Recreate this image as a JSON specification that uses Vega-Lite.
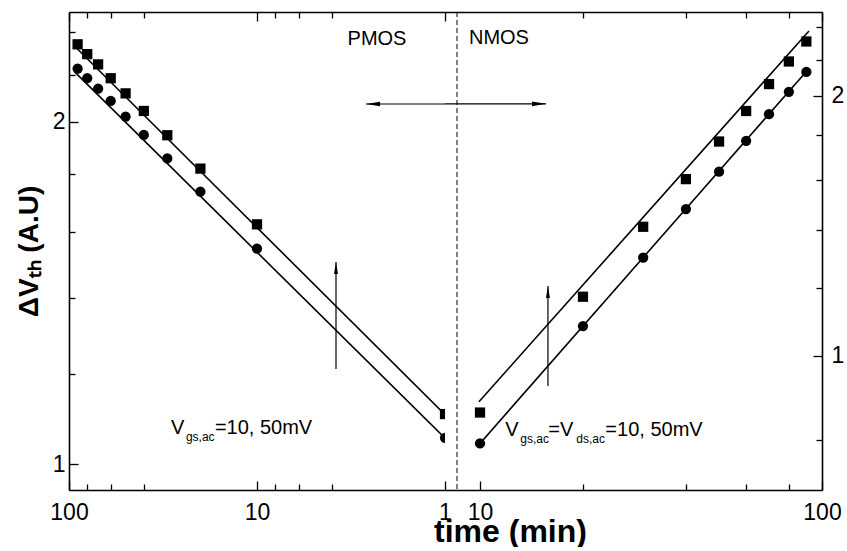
{
  "$schema": "https://vega.github.io/schema/vega-lite/v6.json",
  "background": "white",
  "padding": {"left": 15, "top": 11, "right": 0, "bottom": 0},
  "bounds": "flush",
  "spacing": 0,
  "config": {
    "view": {"stroke": null},
    "font": "Liberation Sans",
    "axis": {
      "grid": false,
      "domainColor": "black",
      "domainWidth": 1.6,
      "tickColor": "black",
      "tickWidth": 1.3,
      "labelColor": "black",
      "labelFont": "Liberation Sans",
      "labelFontSize": 23,
      "labelFlush": false,
      "labelOverlap": false,
      "titleColor": "black"
    }
  },
  "datasets": {
    "pmos": [
      {"t": 90, "dvth": 2.339, "series": "square"},
      {"t": 80, "dvth": 2.293, "series": "square"},
      {"t": 70, "dvth": 2.246, "series": "square"},
      {"t": 60, "dvth": 2.184, "series": "square"},
      {"t": 50, "dvth": 2.118, "series": "square"},
      {"t": 40, "dvth": 2.044, "series": "square"},
      {"t": 30, "dvth": 1.946, "series": "square"},
      {"t": 20, "dvth": 1.819, "series": "square"},
      {"t": 10, "dvth": 1.625, "series": "square"},
      {"t": 1, "dvth": 1.107, "series": "square"},
      {"t": 90, "dvth": 2.227, "series": "circle"},
      {"t": 80, "dvth": 2.184, "series": "circle"},
      {"t": 70, "dvth": 2.138, "series": "circle"},
      {"t": 60, "dvth": 2.086, "series": "circle"},
      {"t": 50, "dvth": 2.021, "series": "circle"},
      {"t": 40, "dvth": 1.947, "series": "circle"},
      {"t": 30, "dvth": 1.857, "series": "circle"},
      {"t": 20, "dvth": 1.736, "series": "circle"},
      {"t": 10, "dvth": 1.547, "series": "circle"},
      {"t": 1, "dvth": 1.055, "series": "circle"}
    ],
    "pfit": [
      {"t": 91.5, "dvth": 2.323, "series": "square"},
      {"t": 0.891, "dvth": 1.085, "series": "square"},
      {"t": 93.3, "dvth": 2.212, "series": "circle"},
      {"t": 0.891, "dvth": 1.035, "series": "circle"}
    ],
    "nmos": [
      {"t": 10, "dvth": 0.860, "series": "square"},
      {"t": 20, "dvth": 1.171, "series": "square"},
      {"t": 30, "dvth": 1.411, "series": "square"},
      {"t": 40, "dvth": 1.602, "series": "square"},
      {"t": 50, "dvth": 1.771, "series": "square"},
      {"t": 60, "dvth": 1.921, "series": "square"},
      {"t": 70, "dvth": 2.064, "series": "square"},
      {"t": 80, "dvth": 2.192, "series": "square"},
      {"t": 90, "dvth": 2.312, "series": "square"},
      {"t": 10, "dvth": 0.792, "series": "circle"},
      {"t": 20, "dvth": 1.083, "series": "circle"},
      {"t": 30, "dvth": 1.300, "series": "circle"},
      {"t": 40, "dvth": 1.479, "series": "circle"},
      {"t": 50, "dvth": 1.634, "series": "circle"},
      {"t": 60, "dvth": 1.774, "series": "circle"},
      {"t": 70, "dvth": 1.905, "series": "circle"},
      {"t": 80, "dvth": 2.022, "series": "circle"},
      {"t": 90, "dvth": 2.132, "series": "circle"}
    ],
    "nfit": [
      {"t": 9.93, "dvth": 0.885, "series": "square"},
      {"t": 91.6, "dvth": 2.378, "series": "square"},
      {"t": 10, "dvth": 0.792, "series": "circle"},
      {"t": 91.5, "dvth": 2.15, "series": "circle"}
    ]
  },
  "hconcat": [
    {
      "width": 376,
      "height": 478,
      "resolve": {"axis": {"x": "independent"}},
      "layer": [
        {
          "data": {"name": "pfit"},
          "mark": {"type": "line", "color": "black", "strokeWidth": 1.6, "clip": true},
          "encoding": {
            "x": {"field": "t", "type": "quantitative",
              "scale": {"type": "log", "domain": [1, 100], "reverse": true, "nice": false, "zero": false},
              "axis": {
                "orient": "bottom",
                "values": [100, 80, 60, 40, 10, 8, 6, 4, 1],
                "labelExpr": "datum.value == 100 ? '100' : datum.value == 10 ? '10' : datum.value == 1 ? '1' : ''",
                "tickSize": {"condition": {"test": "datum.value == 100 || datum.value == 10 || datum.value == 1", "value": -9}, "value": -6},
                "labelPadding": 20,
                "title": null
              }
            },
            "y": {"field": "dvth", "type": "quantitative",
              "scale": {"type": "log", "domain": [0.9494, 2.497], "nice": false, "zero": false},
              "axis": {
                "orient": "left",
                "values": [1, 1.2, 1.4, 1.6, 1.8, 2, 2.2, 2.4],
                "labelExpr": "datum.value == 1 ? '1' : datum.value == 2 ? '2' : ''",
                "tickSize": {"condition": {"test": "datum.value == 1 || datum.value == 2", "value": -9}, "value": -6},
                "labelPadding": 13,
                "title": "ΔVₜₕ (A.U)",
                "titleFont": "Liberation Sans",
                "titleFontSize": 28,
                "titleFontWeight": "bold",
                "titlePadding": 9
              }
            },
            "detail": {"field": "series"}
          }
        },
        {
          "data": {"name": "pmos"},
          "mark": {"type": "point", "filled": true, "color": "black", "opacity": 1, "size": 105, "clip": true},
          "encoding": {
            "x": {"field": "t", "type": "quantitative", "axis": null},
            "y": {"field": "dvth", "type": "quantitative"},
            "shape": {"field": "series", "type": "nominal", "scale": {"domain": ["square", "circle"], "range": ["square", "circle"]}, "legend": null}
          }
        },
        {
          "data": {"name": "pmos"},
          "mark": {"type": "point", "opacity": 0},
          "encoding": {
            "x": {"field": "t", "type": "quantitative",
              "axis": {
                "orient": "top",
                "values": [100, 80, 60, 40, 10, 8, 6, 4, 1],
                "labels": false,
                "tickSize": {"condition": {"test": "datum.value == 100 || datum.value == 10 || datum.value == 1", "value": -9}, "value": -6},
                "title": null
              }
            },
            "y": {"field": "dvth", "type": "quantitative"}
          }
        },
        {
          "data": {"values": [{}]},
          "mark": {"type": "rule", "color": "black", "strokeWidth": 1.2},
          "encoding": {
            "x": {"datum": 1, "axis": null},
            "x2": {"datum": 2.63},
            "y": {"datum": 2.073}
          }
        },
        {
          "data": {"values": [{}]},
          "mark": {"type": "point", "filled": true, "color": "black", "opacity": 1, "size": 196, "shape": "M0,0L2,-0.33L2,0.33Z"},
          "encoding": {
            "x": {"datum": 2.63, "axis": null},
            "y": {"datum": 2.073}
          }
        },
        {
          "data": {"values": [{}]},
          "mark": {"type": "rule", "color": "black", "strokeWidth": 1.2},
          "encoding": {
            "x": {"datum": 3.8, "axis": null},
            "y": {"datum": 1.213},
            "y2": {"datum": 1.506}
          }
        },
        {
          "data": {"values": [{}]},
          "mark": {"type": "point", "filled": true, "color": "black", "opacity": 1, "size": 144, "shape": "M0,0L-0.33,2L0.33,2Z"},
          "encoding": {
            "x": {"datum": 3.8, "axis": null},
            "y": {"datum": 1.506}
          }
        },
        {
          "data": {"values": [{}]},
          "mark": {"type": "text", "text": "PMOS", "font": "Liberation Sans", "fontSize": 20, "align": "center", "baseline": "alphabetic", "color": "black"},
          "encoding": {
            "x": {"datum": 2.30, "axis": null},
            "y": {"datum": 2.336}
          }
        },
        {
          "data": {"values": [{}]},
          "mark": {"type": "text", "text": "V", "font": "Liberation Sans", "fontSize": 20, "align": "left", "baseline": "alphabetic", "color": "black"},
          "encoding": {"x": {"datum": 28.7, "axis": null}, "y": {"datum": 1.063}}
        },
        {
          "data": {"values": [{}]},
          "mark": {"type": "text", "text": "gs,ac", "font": "Liberation Sans", "fontSize": 12, "align": "left", "baseline": "alphabetic", "dx": 15, "dy": 7, "color": "black"},
          "encoding": {"x": {"datum": 28.7, "axis": null}, "y": {"datum": 1.063}}
        },
        {
          "data": {"values": [{}]},
          "mark": {"type": "text", "text": "=10, 50mV", "font": "Liberation Sans", "fontSize": 20, "align": "left", "baseline": "alphabetic", "dx": 44, "color": "black"},
          "encoding": {"x": {"datum": 28.7, "axis": null}, "y": {"datum": 1.063}}
        }
      ]
    },
    {
      "width": 377,
      "height": 478,
      "resolve": {"axis": {"x": "independent"}},
      "layer": [
        {
          "data": {"name": "nfit"},
          "mark": {"type": "line", "color": "black", "strokeWidth": 1.6, "clip": true},
          "encoding": {
            "x": {"field": "t", "type": "quantitative",
              "scale": {"type": "log", "domain": [7.9, 100], "nice": false, "zero": false},
              "axis": {
                "orient": "bottom",
                "values": [10, 20, 40, 60, 80, 100],
                "labelExpr": "datum.value == 100 ? '100' : datum.value == 10 ? '10' : ''",
                "tickSize": {"condition": {"test": "datum.value == 100 || datum.value == 10", "value": -9}, "value": -6},
                "labelPadding": 20,
                "title": "time (min)",
                "titleFont": "Liberation Sans",
                "titleFontSize": 32,
                "titleFontWeight": "bold",
                "titleX": 65,
                "titleY": 51,
                "titleAlign": "center",
                "titleBaseline": "alphabetic"
              }
            },
            "y": {"field": "dvth", "type": "quantitative",
              "scale": {"type": "log", "domain": [0.6996, 2.501], "nice": false, "zero": false},
              "axis": {
                "orient": "right",
                "values": [0.8, 1, 1.2, 1.4, 1.6, 1.8, 2, 2.2, 2.4],
                "labelExpr": "datum.value == 1 ? '1' : datum.value == 2 ? '2' : ''",
                "tickSize": {"condition": {"test": "datum.value == 1 || datum.value == 2", "value": -9}, "value": -6},
                "labelPadding": 18,
                "title": null
              }
            },
            "detail": {"field": "series"}
          }
        },
        {
          "data": {"name": "nmos"},
          "mark": {"type": "point", "filled": true, "color": "black", "opacity": 1, "size": 105, "clip": true},
          "encoding": {
            "x": {"field": "t", "type": "quantitative", "axis": null},
            "y": {"field": "dvth", "type": "quantitative"},
            "shape": {"field": "series", "type": "nominal", "scale": {"domain": ["square", "circle"], "range": ["square", "circle"]}, "legend": null}
          }
        },
        {
          "data": {"name": "nmos"},
          "mark": {"type": "point", "opacity": 0},
          "encoding": {
            "x": {"field": "t", "type": "quantitative",
              "axis": {
                "orient": "top",
                "values": [20, 40, 60, 80, 100],
                "labels": false,
                "tickSize": {"condition": {"test": "datum.value == 100 || datum.value == 10", "value": -9}, "value": -6},
                "title": null
              }
            },
            "y": {"field": "dvth", "type": "quantitative"}
          }
        },
        {
          "data": {"values": [{}]},
          "mark": {"type": "rule", "color": "black", "strokeWidth": 1, "strokeDash": [5, 3]},
          "encoding": {"x": {"datum": 8.565, "axis": null}}
        },
        {
          "data": {"values": [{}]},
          "mark": {"type": "rule", "color": "black", "strokeWidth": 1.2},
          "encoding": {
            "x": {"datum": 7.9, "axis": null},
            "x2": {"datum": 15.6},
            "y": {"datum": 1.958}
          }
        },
        {
          "data": {"values": [{}]},
          "mark": {"type": "point", "filled": true, "color": "black", "opacity": 1, "size": 196, "shape": "M0,0L-2,-0.33L-2,0.33Z"},
          "encoding": {
            "x": {"datum": 15.6, "axis": null},
            "y": {"datum": 1.958}
          }
        },
        {
          "data": {"values": [{}]},
          "mark": {"type": "rule", "color": "black", "strokeWidth": 1.2},
          "encoding": {
            "x": {"datum": 15.8, "axis": null},
            "y": {"datum": 0.923},
            "y2": {"datum": 1.205}
          }
        },
        {
          "data": {"values": [{}]},
          "mark": {"type": "point", "filled": true, "color": "black", "opacity": 1, "size": 144, "shape": "M0,0L-0.33,2L0.33,2Z"},
          "encoding": {
            "x": {"datum": 15.8, "axis": null},
            "y": {"datum": 1.205}
          }
        },
        {
          "data": {"values": [{}]},
          "mark": {"type": "text", "text": "NMOS", "font": "Liberation Sans", "fontSize": 20, "align": "center", "baseline": "alphabetic", "color": "black"},
          "encoding": {"x": {"datum": 11.36, "axis": null}, "y": {"datum": 2.296}}
        },
        {
          "data": {"values": [{}]},
          "mark": {"type": "text", "text": "V", "font": "Liberation Sans", "fontSize": 20, "align": "left", "baseline": "alphabetic", "color": "black"},
          "encoding": {"x": {"datum": 11.86, "axis": null}, "y": {"datum": 0.808}}
        },
        {
          "data": {"values": [{}]},
          "mark": {"type": "text", "text": "gs,ac", "font": "Liberation Sans", "fontSize": 12, "align": "left", "baseline": "alphabetic", "dx": 15, "dy": 7, "color": "black"},
          "encoding": {"x": {"datum": 11.86, "axis": null}, "y": {"datum": 0.808}}
        },
        {
          "data": {"values": [{}]},
          "mark": {"type": "text", "text": "=V", "font": "Liberation Sans", "fontSize": 20, "align": "left", "baseline": "alphabetic", "dx": 43, "color": "black"},
          "encoding": {"x": {"datum": 11.86, "axis": null}, "y": {"datum": 0.808}}
        },
        {
          "data": {"values": [{}]},
          "mark": {"type": "text", "text": "ds,ac", "font": "Liberation Sans", "fontSize": 12, "align": "left", "baseline": "alphabetic", "dx": 71, "dy": 7, "color": "black"},
          "encoding": {"x": {"datum": 11.86, "axis": null}, "y": {"datum": 0.808}}
        },
        {
          "data": {"values": [{}]},
          "mark": {"type": "text", "text": "=10, 50mV", "font": "Liberation Sans", "fontSize": 20, "align": "left", "baseline": "alphabetic", "dx": 100, "color": "black"},
          "encoding": {"x": {"datum": 11.86, "axis": null}, "y": {"datum": 0.808}}
        }
      ]
    }
  ],
  "resolve": {"scale": {"x": "independent", "y": "independent"}}
}
